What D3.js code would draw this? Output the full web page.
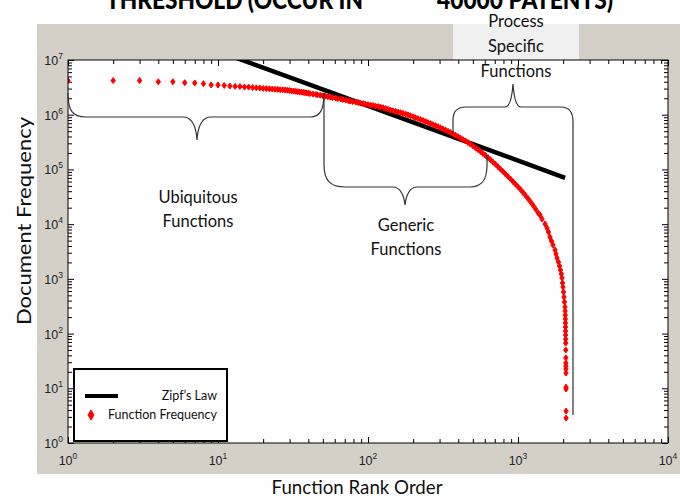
<!DOCTYPE html>
<html><head><meta charset="utf-8">
<script src="https://cdn.jsdelivr.net/npm/d3@7"></script>
<style>body{margin:0;background:#fff}</style>
</head><body>
<svg id="c" width="680" height="497"></svg>
<script>
// ---- data ----
const headRanks = [1,2,3,4,5,6,7,8,9,10,11,12,13,14,15,16,17,18,19,20,21,22,23,24,25,26,27,28,29,30,31,32,33,34,35,36,37,38,39,40];
const headFreq = [4.2e6,4.2e6,4.2e6,4.0e6,4.0e6,3.85e6,3.8e6,3.7e6,3.5e6,3.5e6,3.42e6,3.35e6,3.3e6,3.28e6,3.21e6,3.2e6,3.14e6,3.1e6,3.08e6,3.02e6,3.0e6,2.97e6,2.95e6,2.92e6,2.9e6,2.87e6,2.85e6,2.83e6,2.8e6,2.78e6,2.72e6,2.70e6,2.67e6,2.64e6,2.61e6,2.59e6,2.56e6,2.53e6,2.50e6,2.47e6];
const bodyRanks = [41,43,45,46,48,50,52,54,56,58,61,63,66,68,71,74,76,79,83,86,89,93,96,100,104,108,112,117,121,126,131,136,141,147,153,159,165,171,178,185,192,200,207,215,224,233,242,251,261,271,282,293,304,316,329,342,355,369,383,398,414,430,447,464,482,501,521,541,562,584,607,631,656,681,708,736,764,794,825,858,891,926,962,1000,1039,1080,1122,1166,1212,1259,1308,1359];
const bodyFreq = [2.43e6,2.39e6,2.34e6,2.31e6,2.27e6,2.23e6,2.19e6,2.14e6,2.10e6,2.05e6,2.01e6,1.97e6,1.93e6,1.89e6,1.85e6,1.81e6,1.77e6,1.74e6,1.70e6,1.67e6,1.63e6,1.60e6,1.56e6,1.53e6,1.50e6,1.47e6,1.44e6,1.41e6,1.38e6,1.34e6,1.30e6,1.26e6,1.22e6,1.18e6,1.15e6,1.12e6,1.09e6,1.06e6,1.03e6,9.92e5,9.59e5,9.19e5,8.82e5,8.49e5,8.14e5,7.81e5,7.48e5,7.17e5,6.88e5,6.60e5,6.32e5,6.06e5,5.79e5,5.50e5,5.23e5,4.98e5,4.71e5,4.46e5,4.22e5,3.98e5,3.74e5,3.51e5,3.31e5,3.09e5,2.89e5,2.69e5,2.49e5,2.30e5,2.13e5,1.95e5,1.80e5,1.64e5,1.50e5,1.36e5,1.24e5,1.12e5,1.01e5,9.16e4,8.25e4,7.42e4,6.68e4,5.99e4,5.37e4,4.81e4,4.30e4,3.80e4,3.34e4,2.93e4,2.56e4,2.22e4,1.91e4,1.62e4];
const tailRanks = [1402,1445,1514,1561,1597,1634,1672,1711,1765,1792,1820,1862,1891,1920,1944,1965,1980,1995,2011,2026,2042,2057,2061,2064,2067,2070,2072,2074,2076,2078,2080,2082,2084,2085,2086,2087,2088,2089,2090,2091,2092];
const tailFreq = [1.47e4,1.24e4,1.006e4,8500,7180,5820,4920,4160,3370,2850,2400,2030,1720,1450,1230,1040,839,709,575,466,377,306,258,218,185,156,132,111,94,79,67,50,36,29,25.5,22.5,19,10.5,9.7,3.84,2.86];
const zipfRanks = [1, 2060];
const zipfFreq = [1.45e8, 7.04e4];
const xTickValues = [1, 10, 100, 1000, 10000];
const xTickExp = ["0","1","2","3","4"];
const yTickValues = [1, 10, 100, 1000, 1e4, 1e5, 1e6, 1e7];
const yTickExp = ["0","1","2","3","4","5","6","7"];

const svg = d3.select('#c');
const FONT = "Lato, 'Open Sans', sans-serif";
const TICKFONT = "'Liberation Sans', Arial, sans-serif";

// backgrounds
svg.append('rect').attr('x',37).attr('y',24).attr('width',643).attr('height',450).attr('fill','#d4d0c8');
svg.append('rect').attr('x',453).attr('y',24).attr('width',126).attr('height',36).attr('fill','#f0f0f0');

const x = d3.scaleLog().domain([1,1e4]).range([68,668]);
const y = d3.scaleLog().domain([1,1e7]).range([443,60]);

svg.append('defs').append('clipPath').attr('id','pc').append('rect')
  .attr('x',68).attr('y',60).attr('width',600).attr('height',383);
svg.append('rect').attr('x',68).attr('y',60).attr('width',600).attr('height',383).attr('fill','#fff');

// title (partially cut off at top)
svg.append('text').attr('x',106).attr('y',9).attr('font-family',FONT).attr('font-weight',900)
  .attr('font-size',27).attr('textLength',257).attr('lengthAdjust','spacingAndGlyphs').text('THRESHOLD (OCCUR IN');
svg.append('text').attr('x',437).attr('y',9).attr('font-family',FONT).attr('font-weight',900)
  .attr('font-size',27).attr('textLength',176).attr('lengthAdjust','spacingAndGlyphs').text('40000 PATENTS)');

// axes ticks
const isMajor = d => Math.abs(Math.log10(d) - Math.round(Math.log10(d))) < 1e-9;
function ticks(axisFn, scale, tx, ty, attr, sign){
  const g = svg.append('g').attr('transform',`translate(${tx},${ty})`)
    .call(axisFn(scale).tickValues(scale.ticks()).tickSizeInner(4).tickSizeOuter(0).tickFormat(''));
  g.select('.domain').remove();
  g.selectAll('.tick line').attr(attr, d => sign*(isMajor(d)?6:4)).attr('stroke','#000');
}
ticks(d3.axisBottom, x, 0, 443, 'y2', -1);
ticks(d3.axisTop, x, 0, 60, 'y2', 1);
ticks(d3.axisLeft, y, 68, 0, 'x2', 1);
ticks(d3.axisRight, y, 668, 0, 'x2', -1);

// tick labels
xTickValues.forEach((v,i)=>{
  const t = svg.append('text').attr('x',x(v)).attr('y',465).attr('text-anchor','middle')
    .attr('font-family',TICKFONT).attr('font-size',12.5).attr('fill','#222');
  t.append('tspan').text('10');
  t.append('tspan').attr('dy',-6).attr('font-size',8.5).text(xTickExp[i]);
});
yTickValues.forEach((v,i)=>{
  const t = svg.append('text').attr('x',63).attr('y',y(v)+5).attr('text-anchor','end')
    .attr('font-family',TICKFONT).attr('font-size',12.5).attr('fill','#222');
  t.append('tspan').text('10');
  t.append('tspan').attr('dy',-6).attr('font-size',8.5).text(yTickExp[i]);
});

// Zipf line
const line = d3.line().x(d=>x(d[0])).y(d=>y(d[1]));
svg.append('path').attr('clip-path','url(#pc)')
  .attr('d', line(zipfRanks.map((r,i)=>[r,zipfFreq[i]])))
  .attr('stroke','#000').attr('stroke-width',4.5).attr('fill','none');

// function frequency points
const pts = [];
headRanks.forEach((r,i)=>pts.push([r,headFreq[i]]));
bodyRanks.forEach((r,i)=>pts.push([r,bodyFreq[i]]));
tailRanks.forEach((r,i)=>pts.push([r,tailFreq[i]]));
const diamond = 'M0,-3L2.2,0L0,3L-2.2,0Z';
svg.append('g').attr('clip-path','url(#pc)').selectAll('path').data(pts).join('path')
  .attr('transform', d=>`translate(${x(d[0])},${y(d[1])})`)
  .attr('d', diamond).attr('fill','#ff0000').attr('stroke','#ff0000').attr('stroke-width',1).attr('stroke-linejoin','round');

// frame
svg.append('rect').attr('x',68).attr('y',60).attr('width',600).attr('height',383)
  .attr('fill','none').attr('stroke','#000').attr('stroke-width',1);

// braces
const bg = svg.append('g').attr('fill','none').attr('stroke','#333').attr('stroke-width',1.2);
bg.append('path').attr('d','M68,93 C68,110 72,117 86,117 L183,117 C192,117 196,125 197,140 C198,125 202,117 211,117 L310,117 C320,117 324,110 324,93');
bg.append('path').attr('d','M324,93 L324,165 C324,180 330,187 345,187 L393,187 C400,187 404,195 405,205 C406,195 410,187 417,187 L470,187 C482,187 487,180 487,165 L487,155');
bg.append('path').attr('d','M453,133 L453,120 C453,111 457,107 466,107 L505,107 C510,107 512,98 513,84 C514,98 516,107 521,107 L561,107 C569,107 573,112 573,122 L573,415');

// region labels
function lbl(lines, cx, y0, dy){
  lines.forEach((s,i)=>svg.append('text').attr('x',cx).attr('y',y0+i*dy).attr('text-anchor','middle')
    .attr('font-family',FONT).attr('font-size',16.5).attr('fill','#111').text(s));
}
lbl(['Ubiquitous','Functions'],198,203,24);
lbl(['Generic','Functions'],406,231,24);
lbl(['Process','Specific','Functions'],516,27,25);

// axis titles
svg.append('text').attr('x',357).attr('y',494).attr('text-anchor','middle').attr('font-family',FONT)
  .attr('font-size',19).attr('textLength',171).attr('lengthAdjust','spacingAndGlyphs').attr('fill','#111').text('Function Rank Order');
svg.append('text').attr('transform','translate(31,221) rotate(-90)').attr('text-anchor','middle').attr('font-family',FONT)
  .attr('font-size',20).attr('textLength',208).attr('lengthAdjust','spacingAndGlyphs').attr('fill','#111').text('Document Frequency');

// legend
const lg = svg.append('g');
lg.append('rect').attr('x',74).attr('y',369).attr('width',153).attr('height',72).attr('fill','#fff').attr('stroke','#000').attr('stroke-width',2);
lg.append('line').attr('x1',85).attr('x2',118).attr('y1',396).attr('y2',396).attr('stroke','#000').attr('stroke-width',4);
lg.append('path').attr('transform','translate(91,415)').attr('d','M0,-5L3,0L0,5L-3,0Z').attr('fill','#ff0000').attr('stroke','#ff0000').attr('stroke-width',1);
lg.append('text').attr('x',217).attr('y',400).attr('text-anchor','end').attr('font-family',FONT).attr('font-size',12.5).attr('fill','#111').text('Zipf’s Law');
lg.append('text').attr('x',217).attr('y',419).attr('text-anchor','end').attr('font-family',FONT).attr('font-size',12.5)
  .attr('textLength',109).attr('lengthAdjust','spacingAndGlyphs').attr('fill','#111').text('Function Frequency');
</script>
</body></html>
